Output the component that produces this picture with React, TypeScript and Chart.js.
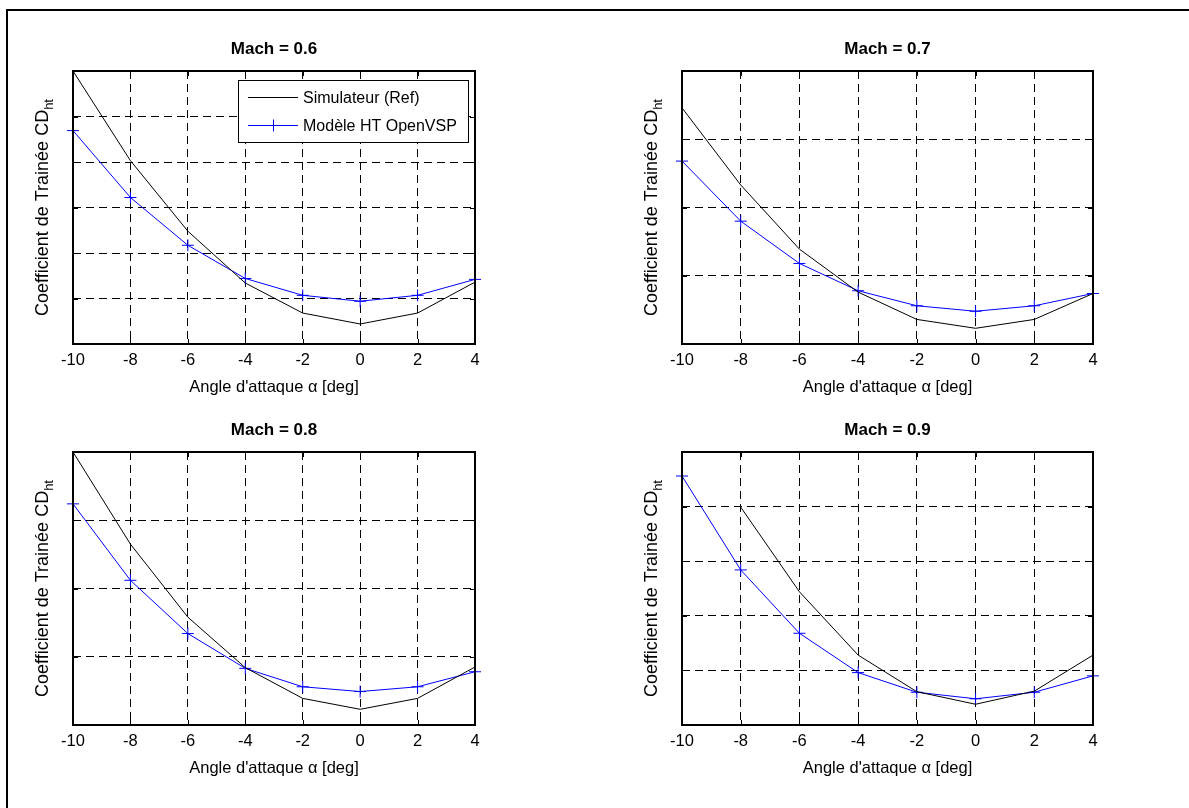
import React, { useEffect, useRef } from "react";
import { Chart, registerables } from "chart.js";

Chart.register(...registerables);

// ---------- data ----------
// Angle of attack (deg)
const ANGLES = [-10, -8, -6, -4, -2, 0, 2, 4];
const X_TICKS = [-10, -8, -6, -4, -2, 0, 2, 4];
const PANEL_TITLES = ["Mach = 0.6", "Mach = 0.7", "Mach = 0.8", "Mach = 0.9"];
const SERIES_LABELS = ["Simulateur (Ref)", "Modèle HT OpenVSP"];
const SERIES_COLORS = ["#000000", "#0000ff"];
const X_TITLE = "Angle d'attaque α [deg]";
const Y_TITLE_MAIN = "Coefficient de Trainée CD";
const Y_TITLE_SUB = "ht";

// Drag coefficient, expressed in grid-step units (the original hides the y tick labels)
const REF_M06 = [6.0, 4.03, 2.48, 1.34, 0.68, 0.44, 0.68, 1.36];
const VSP_M06 = [4.69, 3.22, 2.17, 1.44, 1.07, 0.94, 1.07, 1.42];
const REF_M07 = [3.46, 2.33, 1.39, 0.76, 0.36, 0.23, 0.36, 0.74];
const VSP_M07 = [2.68, 1.8, 1.18, 0.78, 0.56, 0.48, 0.56, 0.74];
const REF_M08 = [4.0, 2.65, 1.58, 0.84, 0.39, 0.23, 0.39, 0.85];
const VSP_M08 = [3.24, 2.12, 1.34, 0.83, 0.56, 0.49, 0.56, 0.78];
const REF_M09 = [null, 3.99, 2.44, 1.28, 0.61, 0.38, 0.62, 1.28];
const VSP_M09 = [4.56, 2.84, 1.68, 0.96, 0.6, 0.48, 0.6, 0.9];
const Y_MAX = [6, 4, 4, 5];

const REF_SERIES = [REF_M06, REF_M07, REF_M08, REF_M09];
const VSP_SERIES = [VSP_M06, VSP_M07, VSP_M08, VSP_M09];

// ---------- layout ----------
const FONT = "'Liberation Sans', Arial, Helvetica, sans-serif";
const PANELS = [
  { left: 0, top: 0, w: 600, h: 400, padL: 73, padR: 125, plotTop: 71, padB: 0, legend: true },
  { left: 600, top: 0, w: 589, h: 400, padL: 82, padR: 96, plotTop: 71, padB: 0, legend: false },
  { left: 0, top: 400, w: 600, h: 408, padL: 73, padR: 125, plotTop: 52, padB: 27, legend: false },
  { left: 600, top: 400, w: 589, h: 408, padL: 82, padR: 96, plotTop: 52, padB: 27, legend: false },
];

const decorPlugin = {
  id: "decor",
  afterDraw(chart: any, _args: any, opts: any) {
    const { ctx, chartArea: a, scales } = chart;
    const xs = scales.x;
    const ys = scales.y;
    ctx.save();
    ctx.strokeStyle = "#000";
    ctx.lineWidth = 1;
    const line = (x1: number, y1: number, x2: number, y2: number) => {
      ctx.beginPath();
      ctx.moveTo(x1, y1);
      ctx.lineTo(x2, y2);
      ctx.stroke();
    };
    // inward tick marks
    xs.ticks.forEach((t: any) => {
      const px = Math.round(xs.getPixelForValue(t.value)) + 0.5;
      line(px, a.bottom, px, a.bottom - 5);
      line(px, a.top, px, a.top + 5);
    });
    ys.ticks.forEach((t: any) => {
      const py = Math.round(ys.getPixelForValue(t.value)) + 0.5;
      line(a.left, py, a.left + 5, py);
      line(a.right, py, a.right - 5, py);
    });
    // axes frame
    ctx.lineWidth = 2;
    ctx.strokeRect(a.left, a.top, a.right - a.left, a.bottom - a.top);

    // y label with subscript
    const cx = a.left - 32;
    const cy = (a.top + a.bottom) / 2;
    const mainSize = 18;
    const subSize = 13;
    ctx.font = `${mainSize}px ${FONT}`;
    const wMain = ctx.measureText(Y_TITLE_MAIN).width;
    ctx.font = `${subSize}px ${FONT}`;
    const wSub = ctx.measureText(Y_TITLE_SUB).width;
    const total = wMain + wSub;
    ctx.translate(cx, cy);
    ctx.rotate(-Math.PI / 2);
    ctx.fillStyle = "#000";
    ctx.textBaseline = "alphabetic";
    ctx.textAlign = "left";
    ctx.font = `${mainSize}px ${FONT}`;
    ctx.fillText(Y_TITLE_MAIN, -total / 2, 6.5);
    ctx.font = `${subSize}px ${FONT}`;
    ctx.fillText(Y_TITLE_SUB, -total / 2 + wMain, 11.5);
    ctx.setTransform(1, 0, 0, 1, 0, 0);

    // legend
    if (opts && opts.legend) {
      const bx = a.left + 165;
      const bw = a.right - 7 - bx;
      const by = a.top + 9;
      const bh = 62;
      ctx.fillStyle = "#fff";
      ctx.fillRect(bx, by, bw, bh);
      ctx.lineWidth = 1;
      ctx.strokeStyle = "#000";
      ctx.strokeRect(bx + 0.5, by + 0.5, bw, bh);
      const rows = [by + 17, by + 45];
      SERIES_LABELS.forEach((label, i) => {
        const ry = Math.round(rows[i]) + 0.5;
        ctx.strokeStyle = SERIES_COLORS[i];
        ctx.lineWidth = 1;
        line(bx + 10, ry, bx + 60, ry);
        if (i === 1) {
          const mx = bx + 35.5;
          line(mx - 6, ry, mx + 6, ry);
          line(mx, ry - 6, mx, ry + 6);
        }
        ctx.fillStyle = "#000";
        ctx.font = `16px ${FONT}`;
        ctx.textBaseline = "middle";
        ctx.textAlign = "left";
        ctx.fillText(label, bx + 65, ry + 1);
      });
    }
    ctx.restore();
  },
};

function Panel({ index }: { index: number }) {
  const ref = useRef<HTMLCanvasElement | null>(null);
  const p = PANELS[index];
  useEffect(() => {
    if (!ref.current) return;
    const titleLH = 20.4;
    const titleCenter = p.plotTop - 21.5;
    const chart = new Chart(ref.current, {
      type: "line",
      data: {
        datasets: [
          {
            label: SERIES_LABELS[0],
            data: ANGLES.map((x, i) => ({ x, y: REF_SERIES[index][i] })) as any,
            borderColor: SERIES_COLORS[0],
            backgroundColor: SERIES_COLORS[0],
            borderWidth: 1,
            pointRadius: 0,
            tension: 0,
            spanGaps: false,
            clip: false as any,
          },
          {
            label: SERIES_LABELS[1],
            data: ANGLES.map((x, i) => ({ x, y: VSP_SERIES[index][i] })) as any,
            borderColor: SERIES_COLORS[1],
            backgroundColor: SERIES_COLORS[1],
            borderWidth: 1,
            pointStyle: "cross",
            pointRadius: 6,
            pointBorderColor: SERIES_COLORS[1],
            pointBorderWidth: 1,
            tension: 0,
            clip: false as any,
          },
        ],
      },
      options: {
        animation: false,
        responsive: false,
        maintainAspectRatio: false,
        events: [],
        layout: { padding: { left: p.padL, right: p.padR, top: 0, bottom: p.padB } },
        plugins: {
          legend: { display: false },
          tooltip: { enabled: false },
          title: {
            display: true,
            text: PANEL_TITLES[index],
            color: "#000",
            font: { family: FONT, size: 17, weight: "bold", lineHeight: 1.2 },
            padding: { top: titleCenter - titleLH / 2, bottom: p.plotTop - (titleCenter + titleLH / 2) },
          },
          decor: { legend: p.legend },
        } as any,
        scales: {
          x: {
            type: "linear",
            min: -10,
            max: 4,
            afterBuildTicks: (s: any) => {
              s.ticks = X_TICKS.map((v) => ({ value: v }));
            },
            ticks: { color: "#000", font: { family: FONT, size: 16.5 }, padding: 7, maxRotation: 0 },
            grid: { color: "#000", lineWidth: 1, drawTicks: false },
            border: { display: false, dash: [8, 5] },
            title: {
              display: true,
              text: X_TITLE,
              color: "#000",
              font: { family: FONT, size: 16.5, lineHeight: 1.2 },
              padding: { top: 0, bottom: 2.3 },
            },
            afterFit: (s: any) => {
              s.height = 56;
            },
          },
          y: {
            type: "linear",
            min: 0,
            max: Y_MAX[index],
            ticks: { display: false, stepSize: 1 },
            grid: { color: "#000", lineWidth: 1, drawTicks: false },
            border: { display: false, dash: [8, 5] },
            afterFit: (s: any) => {
              s.width = 0;
            },
          },
        },
      } as any,
      plugins: [decorPlugin as any],
    });
    return () => chart.destroy();
  }, [index]);
  return (
    <canvas
      ref={ref}
      width={p.w}
      height={p.h}
      style={{ position: "absolute", left: p.left, top: p.top, width: p.w, height: p.h }}
    />
  );
}

export default function App() {
  return (
    <div
      style={{
        position: "fixed",
        left: 0,
        top: 0,
        width: 1189,
        height: 808,
        background: "#fff",
        overflow: "hidden",
      }}
    >
      {[0, 1, 2, 3].map((i) => (
        <Panel key={i} index={i} />
      ))}
      <div
        style={{
          position: "absolute",
          left: 6,
          top: 9,
          width: 1300,
          height: 1000,
          borderLeft: "2px solid #000",
          borderTop: "2px solid #000",
          pointerEvents: "none",
        }}
      />
    </div>
  );
}
